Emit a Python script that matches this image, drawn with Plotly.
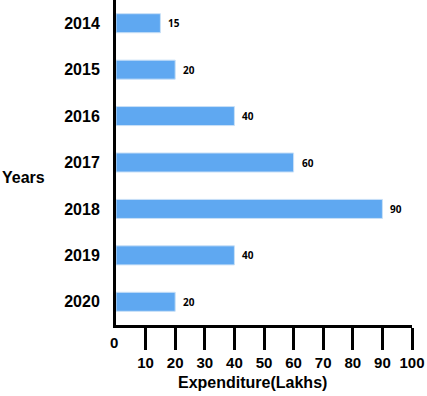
import plotly.graph_objects as go

years = ["2014", "2015", "2016", "2017", "2018", "2019", "2020"]
expenditure = [15, 20, 40, 60, 90, 40, 20]
x_ticks = [10, 20, 30, 40, 50, 60, 70, 80, 90, 100]

BAR = "#5fa8f1"
FONT = "Liberation Sans, Arial, sans-serif"
VFONT = "Open Sans, sans-serif"

fig = go.Figure()
fig.add_trace(go.Bar(
    y=years, x=expenditure, orientation="h",
    marker=dict(color=BAR, line=dict(color="#c9e0f7", width=1)),
    width=0.41, hoverinfo="skip",
))

for i, v in enumerate(expenditure):
    fig.add_annotation(x=v, y=i, xref="x", yref="y", text=str(v),
                       showarrow=False, xanchor="left", xshift=6,
                       font=dict(family=VFONT, size=10, color="black", weight="bold"))

fig.add_annotation(x=0, y=0, xref="x", yref="paper", text="0", showarrow=False,
                   xanchor="center", yanchor="top", yshift=-7, xshift=-2,
                   font=dict(family=FONT, size=15, color="black", weight="bold"))

fig.add_annotation(x=0, y=(325 - 177) / 325, xref="paper", yref="paper", text="Years",
                   showarrow=False, xanchor="left", yanchor="middle",
                   xshift=-116,
                   font=dict(family=FONT, size=16, color="black", weight="bold"))

fig.add_annotation(x=0, y=0, xref="paper", yref="paper", text="Expenditure(Lakhs)",
                   showarrow=False, xanchor="center", yanchor="middle",
                   xshift=252 - 116, yshift=-(382 - 325),
                   font=dict(family=FONT, size=16, color="black", weight="bold"))

fig.update_layout(
    width=427, height=396,
    margin=dict(l=116, r=15, t=0, b=71),
    plot_bgcolor="white", paper_bgcolor="white",
    showlegend=False,
    xaxis=dict(range=[0, 100], tickvals=x_ticks, ticks="outside", ticklen=22,
               tickwidth=3, tickcolor="black", showline=True, linewidth=3,
               linecolor="black", showgrid=False, zeroline=False, automargin=False,
               tickfont=dict(family=FONT, size=15, color="black", weight="bold")),
    yaxis=dict(type="category", categoryorder="array", categoryarray=years,
               range=[6.5, -0.5], automargin=False,
               showline=True, linewidth=3, linecolor="black", showgrid=False,
               ticks="", ticklabelstandoff=10,
               tickfont=dict(family=FONT, size=16, color="black", weight="bold")),
)

fig.write_html("out.html", config={"displayModeBar": False},
               post_script="document.body.style.margin='0';document.body.style.overflow='hidden';")
